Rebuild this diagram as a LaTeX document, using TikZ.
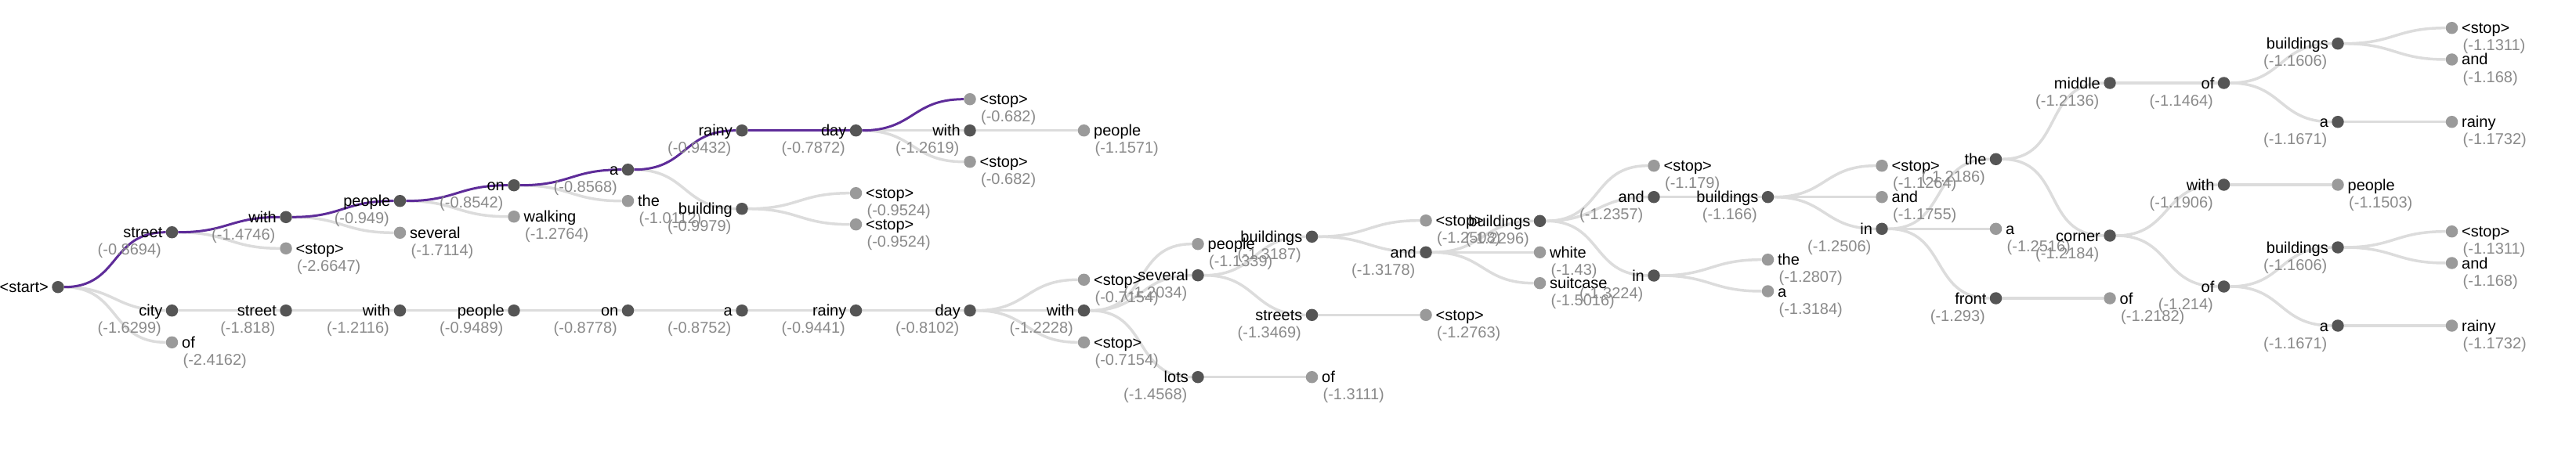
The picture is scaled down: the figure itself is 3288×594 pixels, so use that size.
\documentclass[tikz,border=0pt]{standalone}
\usepackage{fontspec}
\setmainfont{Liberation Sans}
\pgfdeclarelayer{background}
\pgfsetlayers{background,main}

\definecolor{dotdark}{HTML}{555555}
\definecolor{dotlight}{HTML}{9A9A9A}
\definecolor{linkgray}{HTML}{DCDCDC}
\definecolor{scoregray}{HTML}{8A8A8A}
\definecolor{beampurple}{RGB}{94,44,153}

\tikzset{
    darkdot/.style={circle, fill=dotdark, inner sep=0pt, minimum size=15.5pt},
    lightdot/.style={circle, fill=dotlight, inner sep=0pt, minimum size=15.5pt},
    wordleft/.style={anchor=base east, inner sep=0pt, xshift=-4pt, yshift=-7pt},
    scoreleft/.style={anchor=base east, inner sep=0pt, xshift=-5.5pt, yshift=-29pt, text=scoregray},
    wordright/.style={anchor=base west, inner sep=0pt, xshift=4.5pt, yshift=-7pt},
    scoreright/.style={anchor=base west, inner sep=0pt, xshift=6pt, yshift=-29pt, text=scoregray},
    midtok/.style 2 args={darkdot, label={[wordleft]left:#1}, label={[scoreleft]left:#2}},
    endtok/.style 2 args={lightdot, label={[wordright]right:#1}, label={[scoreright]right:#2}},
    link/.style={draw=linkgray, line width=3.5pt, out=0, in=180, looseness=1.25},
    best/.style={link, draw=beampurple, line width=3pt},
}

\begin{document}
\begin{tikzpicture}[x=1pt, y=-1pt, font=\fontsize{20pt}{24pt}\selectfont]
    \useasboundingbox (0,0) rectangle (3288,594);

    \node[darkdot, label={[wordleft]left:<start>}] (start) at (74,366.7) {};
    % upper beam
    \node[midtok={street}{(-0.8694)}]    (tok 1)  at (219.5,296.7) {};
    \node[midtok={with}{(-1.4746)}]      (tok 2)  at (365,277.3) {};
    \node[endtok={<stop>}{(-2.6647)}]    (tok 3)  at (365,317.3) {};
    \node[midtok={people}{(-0.949)}]     (tok 4)  at (510.5,256.7) {};
    \node[endtok={several}{(-1.7114)}]   (tok 5)  at (510.5,297.3) {};
    \node[midtok={on}{(-0.8542)}]        (tok 6)  at (656,236.7) {};
    \node[endtok={walking}{(-1.2764)}]   (tok 7)  at (656,276.7) {};
    \node[midtok={a}{(-0.8568)}]         (tok 8)  at (801.5,216.7) {};
    \node[endtok={the}{(-1.0112)}]       (tok 9)  at (801.5,256.7) {};
    \node[midtok={rainy}{(-0.9432)}]     (tok 10) at (947,166.7) {};
    \node[midtok={building}{(-0.9979)}]  (tok 11) at (947,266.7) {};
    \node[midtok={day}{(-0.7872)}]       (tok 12) at (1092.5,166.7) {};
    \node[endtok={<stop>}{(-0.9524)}]    (tok 13) at (1092.5,246.7) {};
    \node[endtok={<stop>}{(-0.9524)}]    (tok 14) at (1092.5,286.7) {};
    \node[endtok={<stop>}{(-0.682)}]     (tok 15) at (1238,126.7) {};
    \node[midtok={with}{(-1.2619)}]      (tok 16) at (1238,166.7) {};
    \node[endtok={<stop>}{(-0.682)}]     (tok 17) at (1238,206.7) {};
    \node[endtok={people}{(-1.1571)}]    (tok 18) at (1383.5,166.7) {};
    % lower beam
    \node[midtok={city}{(-1.6299)}]      (tok 19) at (219.5,396.7) {};
    \node[endtok={of}{(-2.4162)}]        (tok 20) at (219.5,437.3) {};
    \node[midtok={street}{(-1.818)}]     (tok 21) at (365,396.7) {};
    \node[midtok={with}{(-1.2116)}]      (tok 22) at (510.5,396.7) {};
    \node[midtok={people}{(-0.9489)}]    (tok 23) at (656,396.7) {};
    \node[midtok={on}{(-0.8778)}]        (tok 24) at (801.5,396.7) {};
    \node[midtok={a}{(-0.8752)}]         (tok 25) at (947,396.7) {};
    \node[midtok={rainy}{(-0.9441)}]     (tok 26) at (1092.5,396.7) {};
    \node[midtok={day}{(-0.8102)}]       (tok 27) at (1238,396.7) {};
    \node[endtok={<stop>}{(-0.7154)}]    (tok 28) at (1383.5,357.3) {};
    \node[midtok={with}{(-1.2228)}]      (tok 29) at (1383.5,396.7) {};
    \node[endtok={<stop>}{(-0.7154)}]    (tok 30) at (1383.5,437.3) {};
    \node[endtok={people}{(-1.1339)}]    (tok 31) at (1529,311.7) {};
    \node[midtok={several}{(-1.2034)}]   (tok 32) at (1529,351.7) {};
    \node[midtok={lots}{(-1.4568)}]      (tok 33) at (1529,481.7) {};
    \node[midtok={buildings}{(-1.3187)}] (tok 34) at (1674.5,302.3) {};
    \node[midtok={streets}{(-1.3469)}]   (tok 35) at (1674.5,402.3) {};
    \node[endtok={of}{(-1.3111)}]        (tok 36) at (1674.5,481.7) {};
    \node[endtok={<stop>}{(-1.2508)}]    (tok 37) at (1820,281.7) {};
    \node[midtok={and}{(-1.3178)}]       (tok 38) at (1820,322.3) {};
    \node[endtok={<stop>}{(-1.2763)}]    (tok 39) at (1820,402.3) {};
    \node[midtok={buildings}{(-1.2296)}] (tok 40) at (1965.5,282.3) {};
    \node[endtok={white}{(-1.43)}]       (tok 41) at (1965.5,322.3) {};
    \node[endtok={suitcase}{(-1.5016)}]  (tok 42) at (1965.5,361.7) {};
    \node[endtok={<stop>}{(-1.179)}]     (tok 43) at (2111,211.7) {};
    \node[midtok={and}{(-1.2357)}]       (tok 44) at (2111,251.7) {};
    \node[midtok={in}{(-1.3224)}]        (tok 45) at (2111,352) {};
    \node[midtok={buildings}{(-1.166)}]  (tok 46) at (2256.5,251.7) {};
    \node[endtok={the}{(-1.2807)}]       (tok 47) at (2256.5,331.7) {};
    \node[endtok={a}{(-1.3184)}]         (tok 48) at (2256.5,372) {};
    \node[endtok={<stop>}{(-1.1264)}]    (tok 49) at (2402,211.7) {};
    \node[endtok={and}{(-1.1755)}]       (tok 50) at (2402,251.7) {};
    \node[midtok={in}{(-1.2506)}]        (tok 51) at (2402,292.3) {};
    \node[midtok={the}{(-1.2186)}]       (tok 52) at (2547.5,203.3) {};
    \node[endtok={a}{(-1.2516)}]         (tok 53) at (2547.5,292.3) {};
    \node[midtok={front}{(-1.293)}]      (tok 54) at (2547.5,381) {};
    \node[midtok={middle}{(-1.2136)}]    (tok 55) at (2693,106) {};
    \node[midtok={corner}{(-1.2184)}]    (tok 56) at (2693,301) {};
    \node[endtok={of}{(-1.2182)}]        (tok 57) at (2693,381) {};
    \node[midtok={of}{(-1.1464)}]        (tok 58) at (2838.5,106) {};
    \node[midtok={with}{(-1.1906)}]      (tok 59) at (2838.5,236) {};
    \node[midtok={of}{(-1.214)}]         (tok 60) at (2838.5,366) {};
    \node[midtok={buildings}{(-1.1606)}] (tok 61) at (2984,55.7) {};
    \node[midtok={a}{(-1.1671)}]         (tok 62) at (2984,155.7) {};
    \node[endtok={people}{(-1.1503)}]    (tok 63) at (2984,236) {};
    \node[midtok={buildings}{(-1.1606)}] (tok 64) at (2984,316) {};
    \node[midtok={a}{(-1.1671)}]         (tok 65) at (2984,416) {};
    \node[endtok={<stop>}{(-1.1311)}]    (tok 66) at (3129.5,35.7) {};
    \node[endtok={and}{(-1.168)}]        (tok 67) at (3129.5,76) {};
    \node[endtok={rainy}{(-1.1732)}]     (tok 68) at (3129.5,155.7) {};
    \node[endtok={<stop>}{(-1.1311)}]    (tok 69) at (3129.5,295.7) {};
    \node[endtok={and}{(-1.168)}]        (tok 70) at (3129.5,336) {};
    \node[endtok={rainy}{(-1.1732)}]     (tok 71) at (3129.5,416) {};

    \begin{pgfonlayer}{background}
        \draw[link] (start)  to (tok 19);
        \draw[link] (start)  to (tok 20);
        \draw[link] (tok 1)  to (tok 3);
        \draw[link] (tok 2)  to (tok 5);
        \draw[link] (tok 4)  to (tok 7);
        \draw[link] (tok 6)  to (tok 9);
        \draw[link] (tok 8)  to (tok 11);
        \draw[link] (tok 11) to (tok 13);
        \draw[link] (tok 11) to (tok 14);
        \draw[link] (tok 12) to (tok 16);
        \draw[link] (tok 12) to (tok 17);
        \draw[link] (tok 16) to (tok 18);
        \draw[link] (tok 19) to (tok 21);
        \draw[link] (tok 21) to (tok 22);
        \draw[link] (tok 22) to (tok 23);
        \draw[link] (tok 23) to (tok 24);
        \draw[link] (tok 24) to (tok 25);
        \draw[link] (tok 25) to (tok 26);
        \draw[link] (tok 26) to (tok 27);
        \draw[link] (tok 27) to (tok 28);
        \draw[link] (tok 27) to (tok 29);
        \draw[link] (tok 27) to (tok 30);
        \draw[link] (tok 29) to (tok 31);
        \draw[link] (tok 29) to (tok 32);
        \draw[link] (tok 29) to (tok 33);
        \draw[link] (tok 32) to (tok 34);
        \draw[link] (tok 32) to (tok 35);
        \draw[link] (tok 33) to (tok 36);
        \draw[link] (tok 34) to (tok 37);
        \draw[link] (tok 34) to (tok 38);
        \draw[link] (tok 35) to (tok 39);
        \draw[link] (tok 38) to (tok 40);
        \draw[link] (tok 38) to (tok 41);
        \draw[link] (tok 38) to (tok 42);
        \draw[link] (tok 40) to (tok 43);
        \draw[link] (tok 40) to (tok 44);
        \draw[link] (tok 40) to (tok 45);
        \draw[link] (tok 44) to (tok 46);
        \draw[link] (tok 45) to (tok 47);
        \draw[link] (tok 45) to (tok 48);
        \draw[link] (tok 46) to (tok 49);
        \draw[link] (tok 46) to (tok 50);
        \draw[link] (tok 46) to (tok 51);
        \draw[link] (tok 51) to (tok 52);
        \draw[link] (tok 51) to (tok 53);
        \draw[link] (tok 51) to (tok 54);
        \draw[link] (tok 52) to (tok 55);
        \draw[link] (tok 52) to (tok 56);
        \draw[link] (tok 54) to (tok 57);
        \draw[link] (tok 55) to (tok 58);
        \draw[link] (tok 56) to (tok 59);
        \draw[link] (tok 56) to (tok 60);
        \draw[link] (tok 58) to (tok 61);
        \draw[link] (tok 58) to (tok 62);
        \draw[link] (tok 59) to (tok 63);
        \draw[link] (tok 60) to (tok 64);
        \draw[link] (tok 60) to (tok 65);
        \draw[link] (tok 61) to (tok 66);
        \draw[link] (tok 61) to (tok 67);
        \draw[link] (tok 62) to (tok 68);
        \draw[link] (tok 64) to (tok 69);
        \draw[link] (tok 64) to (tok 70);
        \draw[link] (tok 65) to (tok 71);
        % best beam
        \draw[best] (start)  to (tok 1);
        \draw[best] (tok 1)  to (tok 2);
        \draw[best] (tok 2)  to (tok 4);
        \draw[best] (tok 4)  to (tok 6);
        \draw[best] (tok 6)  to (tok 8);
        \draw[best] (tok 8)  to (tok 10);
        \draw[best] (tok 10) to (tok 12);
        \draw[best] (tok 12) to (tok 15);
    \end{pgfonlayer}
\end{tikzpicture}
\end{document}
